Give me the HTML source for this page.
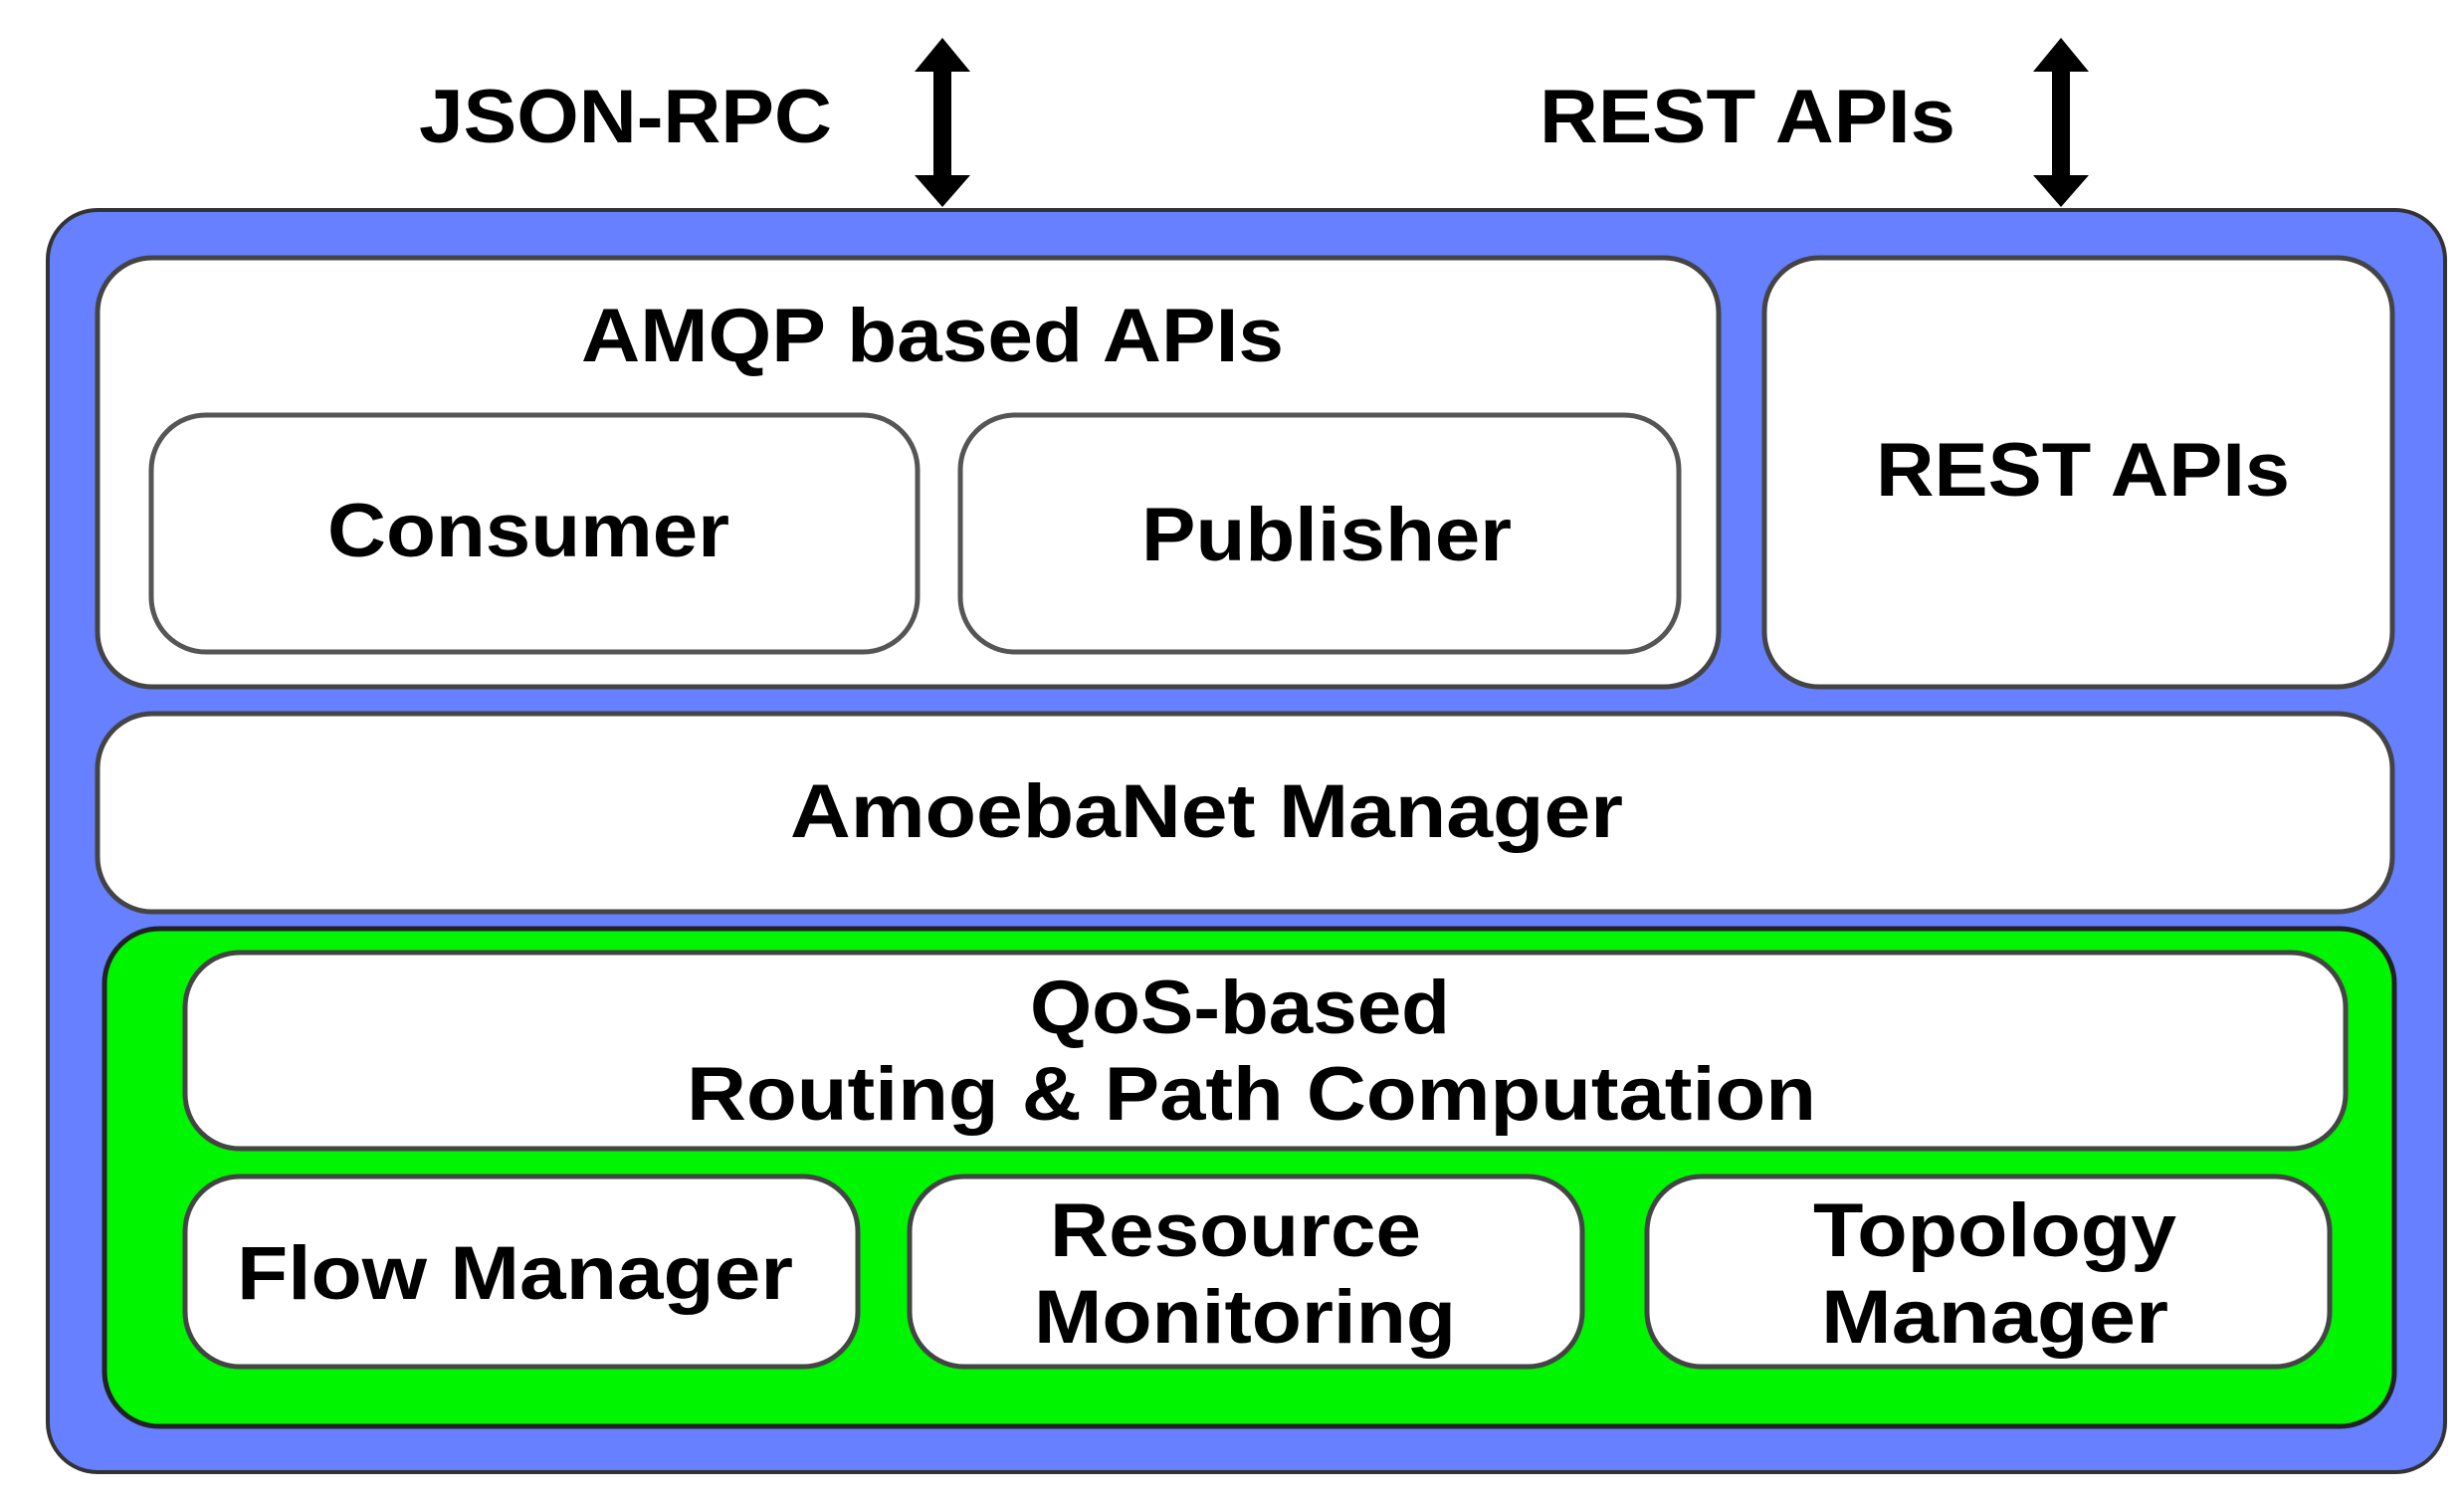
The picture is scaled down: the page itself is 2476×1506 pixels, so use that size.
<!DOCTYPE html>
<html><head><meta charset="utf-8"><style>html,body{margin:0;padding:0;background:#fff}svg{display:block}</style></head>
<body>
<svg width="2476" height="1506" viewBox="0 0 2476 1506" xmlns="http://www.w3.org/2000/svg">
<defs>
<style>text{font-family:"Liberation Sans Narrow","Liberation Sans",sans-serif;font-weight:bold;font-size:76px;fill:#000}</style>
</defs>
<!-- arrows -->
<polygon points="947,38 975,72 956,72 956,176 975,176 947,208 919,176 938,176 938,72 919,72" fill="#000"/>
<polygon points="2071,38 2099,72 2080,72 2080,176 2099,176 2071,208 2043,176 2062,176 2062,72 2043,72" fill="#000"/>
<text x="421" y="143" textLength="415" lengthAdjust="spacingAndGlyphs">JSON-RPC</text>
<text x="1547" y="143" textLength="418" lengthAdjust="spacingAndGlyphs">REST APIs</text>
<!-- outer blue -->
<rect x="48" y="211" width="2409" height="1268" rx="50" fill="#6680ff" stroke="#333" stroke-width="4"/>
<!-- AMQP -->
<rect x="98" y="259" width="1629" height="431" rx="55" fill="#fff" stroke="#444" stroke-width="5"/>
<text x="584" y="363" textLength="706" lengthAdjust="spacingAndGlyphs">AMQP based APIs</text>
<rect x="152" y="417" width="770" height="238" rx="55" fill="#fff" stroke="#555" stroke-width="5"/>
<text x="329" y="559" textLength="404" lengthAdjust="spacingAndGlyphs">Consumer</text>
<rect x="965" y="417" width="722" height="238" rx="55" fill="#fff" stroke="#555" stroke-width="5"/>
<text x="1147" y="563" textLength="372" lengthAdjust="spacingAndGlyphs">Publisher</text>
<!-- REST box -->
<rect x="1773" y="259" width="631" height="431" rx="55" fill="#fff" stroke="#444" stroke-width="5"/>
<text x="1885" y="498" textLength="416" lengthAdjust="spacingAndGlyphs">REST APIs</text>
<!-- AmoebaNet -->
<rect x="98" y="717" width="2306" height="199" rx="55" fill="#fff" stroke="#444" stroke-width="5"/>
<text x="794" y="841" textLength="837" lengthAdjust="spacingAndGlyphs">AmoebaNet Manager</text>
<!-- green -->
<rect x="105" y="933" width="2301" height="500" rx="55" fill="#00f500" stroke="#222" stroke-width="5"/>
<rect x="186" y="957" width="2171" height="197" rx="55" fill="#fff" stroke="#444" stroke-width="5"/>
<text x="1035" y="1038" textLength="422" lengthAdjust="spacingAndGlyphs">QoS-based</text>
<text x="690" y="1125" textLength="1135" lengthAdjust="spacingAndGlyphs">Routing &amp; Path Computation</text>
<rect x="186" y="1182" width="676" height="191" rx="55" fill="#fff" stroke="#444" stroke-width="5"/>
<text x="238" y="1305" textLength="559" lengthAdjust="spacingAndGlyphs">Flow Manager</text>
<rect x="914" y="1182" width="676" height="191" rx="55" fill="#fff" stroke="#444" stroke-width="5"/>
<text x="1055" y="1262" textLength="373" lengthAdjust="spacingAndGlyphs">Resource</text>
<text x="1039" y="1349" textLength="424" lengthAdjust="spacingAndGlyphs">Monitoring</text>
<rect x="1655" y="1182" width="686" height="191" rx="55" fill="#fff" stroke="#444" stroke-width="5"/>
<text x="1822" y="1262" textLength="365" lengthAdjust="spacingAndGlyphs">Topology</text>
<text x="1830" y="1349" textLength="349" lengthAdjust="spacingAndGlyphs">Manager</text>
</svg>
</body></html>
